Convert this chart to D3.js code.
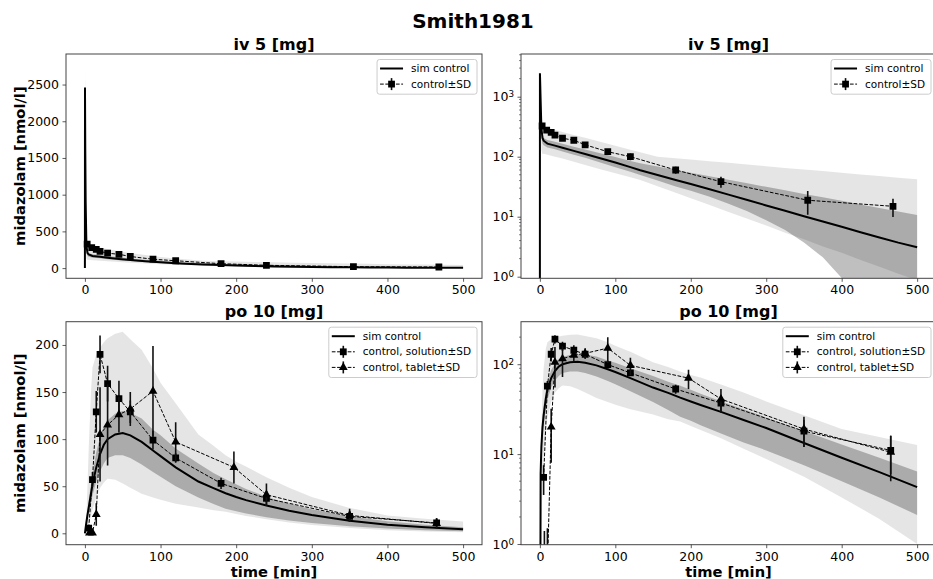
<!DOCTYPE html>
<html><head><meta charset="utf-8">
<script src="https://cdn.jsdelivr.net/npm/d3@7"></script>
<style>body{margin:0;background:#fff} svg{display:block;font-family:"DejaVu Sans",sans-serif}</style>
</head><body><svg id="c" width="933" height="579"></svg>
<script>
// ---------------- data ----------------
const suptitle = "Smith1981";
const ivTitle = "iv 5 [mg]";
const poTitle = "po 10 [mg]";
const xLabel = "time [min]";
const yLabel = "midazolam [nmol/l]";

const ivSimTime   = [0, 0.1, 0.5, 1, 2, 3.5, 5, 10, 20, 30, 45, 60, 80, 100, 120, 133, 156, 180, 200, 225, 250, 275, 300, 325, 350, 375, 400, 425, 450, 475, 500];
const ivSimMean   = [0, 2459, 1600, 900, 300, 205, 185, 165, 153, 141, 125, 111, 94, 80, 67, 59.5, 49.5, 41, 35, 28.6, 23.3, 19, 15.4, 12.6, 10.2, 8.3, 6.8, 5.5, 4.5, 3.7, 3.1];
const ivSdHigh    = [0, 2700, 1900, 1150, 430, 250, 205, 190, 177, 164, 147, 132, 114, 99, 85, 77.6, 68.6, 60.2, 54, 47.2, 41.2, 36, 31.5, 27.5, 24, 21, 18.4, 16, 14, 12.2, 10.7];
const ivSdLow     = [0, 2200, 1300, 650, 210, 165, 155, 142, 133, 122, 108, 96, 80, 67, 56, 49.5, 40, 32, 27, 21.5, 16.5, 12.3, 8.7, 6, 3.7, 2.1, 0.95, 0.3, 0, 0, 0];
const ivRangeHigh = [0, 2777, 2100, 1400, 600, 316, 313, 301, 281, 259, 231, 206, 177, 152, 131, 119, 100, 94.5, 89.5, 84, 79, 74, 69.5, 65, 61, 57.5, 54, 50.5, 47.5, 44.5, 42];
const ivRangeLow  = [0, 1800, 900, 400, 130, 110, 112, 108, 100, 93, 82, 73, 62, 53, 45.5, 41, 32.2, 25, 20.3, 15.6, 12, 9.2, 7.1, 5.4, 4.2, 3.2, 2.5, 1.9, 1.46, 1.12, 0.87];

const ivDataTime = [3, 9, 15, 20, 30, 45, 60, 90, 120, 180, 240, 355, 468];
const ivDataMean = [325, 278, 255, 228, 203, 188, 158, 121, 100, 60, 38.3, 18.8, 14.9];
const ivDataSd   = [25, 20, 18, 15, 12, 12, 12, 12, 13, 8, 8, 8, 5];

const poSimTime   = [0, 1, 2, 3.5, 5, 8, 10, 15, 20, 25, 30, 40, 50, 60, 75, 90, 100, 120, 150, 170, 186, 200, 213, 240, 270, 300, 350, 400, 450, 500];
const poSimMean   = [0, 6, 12, 20, 27, 42, 52, 70, 84, 94, 100, 105, 106.5, 104, 97, 88, 82, 70, 55, 48, 42.5, 38.5, 35.2, 29.5, 24, 19.5, 13.3, 9.1, 6.3, 4.3];
const poSdHigh    = [0, 8, 16, 26, 35, 52, 63, 86, 102, 114, 120, 127, 130, 128, 122, 110, 104, 90, 74, 64, 57.5, 52, 47, 38.8, 31.5, 25.6, 18.1, 12.8, 9.1, 6.4];
const poSdLow     = [0, 3, 8, 15, 21, 33, 40, 55, 66, 74, 80, 83, 83, 80, 73, 65, 60, 50, 38, 31, 26, 23.5, 21, 17, 13.5, 11, 7.5, 5, 3.3, 2.1];
const poRangeHigh = [0, 5, 20, 53, 90, 150, 176, 190, 197, 203, 207, 212, 214, 206, 195, 175, 160, 138, 105, 93, 83, 76, 71, 59.5, 48.5, 38.5, 27, 19, 15.5, 12.6];
const poRangeLow  = [0, 0.3, 1.5, 5, 9, 18, 25, 38, 48, 54, 58, 57, 53, 48.5, 42, 38, 35.5, 31.5, 27.5, 24.5, 23, 20.5, 18.5, 15, 11.5, 8.8, 5.6, 3.3, 1.9, 1.0];

const solTime = [5, 10, 15, 20, 30, 45, 60, 90, 120, 180, 240, 350, 465];
const solMean = [5.5, 57, 129, 190, 159, 143, 129, 99, 80, 53, 37, 18, 11];
const solSd   = [2, 8, 22, 20, 19, 19, 12, 10, 5, 6, 8, 6, 5];

const tabTime = [6, 10, 15, 20, 30, 45, 60, 90, 120, 197, 240, 350, 465];
const tabMean = [0.4, 0.5, 20, 105, 115, 126, 132, 151, 97, 70, 41, 19, 10.5];
const tabSd   = [1.0, 1.0, 12, 50, 43, 19, 18, 48, 21, 17, 12, 7, 5.5];

const xTicks = [0, 100, 200, 300, 400, 500];
const ivLinTicks = [0, 500, 1000, 1500, 2000, 2500];
const poLinTicks = [0, 50, 100, 150, 200];
const ivLogTicks = [1, 10, 100, 1000];
const poLogTicks = [1, 10, 100];

const legSim = "sim control";
const legIv = "control\u00b1SD";
const legSol = "control, solution\u00b1SD";
const legTab = "control, tablet\u00b1SD";

// ---------------- drawing ----------------
const svg = d3.select('#c');
const defs = svg.append('defs');
let clipN = 0;

svg.append('text').attr('x', 473).attr('y', 28).attr('text-anchor', 'middle')
  .attr('font-weight', 'bold').attr('font-size', 20).text(suptitle);

function panel(o) {
  const x = d3.scaleLinear().domain([-25, 525]).range([o.x0, o.x1]);
  const y = (o.log ? d3.scaleLog() : d3.scaleLinear()).domain(o.domain).range([o.y1, o.y0]);
  const fy = v => y(o.log ? Math.max(v, 1e-3) : v);
  const id = 'clip' + (clipN++);
  defs.append('clipPath').attr('id', id).append('rect')
    .attr('x', o.x0).attr('y', o.y0).attr('width', o.x1 - o.x0).attr('height', o.y1 - o.y0);
  const g = svg.append('g').attr('clip-path', `url(#${id})`);

  const s = o.sim;
  const idx = d3.range(s.t.length);
  const area = (lo, hi) => d3.area().x(i => x(s.t[i])).y0(i => fy(lo[i])).y1(i => fy(hi[i]));
  g.append('path').datum(idx).attr('d', area(s.rlo, s.rhi)).attr('fill', '#000').attr('fill-opacity', 0.1);
  g.append('path').datum(idx).attr('d', area(s.slo, s.shi)).attr('fill', '#000').attr('fill-opacity', 0.25);
  g.append('path').datum(idx).attr('d', d3.line().x(i => x(s.t[i])).y(i => fy(s.mean[i])))
    .attr('fill', 'none').attr('stroke', '#000').attr('stroke-width', 2);

  o.data.forEach(dser => {
    const di = d3.range(dser.t.length);
    g.selectAll(null).data(di).join('line')
      .attr('x1', i => x(dser.t[i])).attr('x2', i => x(dser.t[i]))
      .attr('y1', i => fy(dser.m[i] - dser.sd[i])).attr('y2', i => fy(dser.m[i] + dser.sd[i]))
      .attr('stroke', '#111').attr('stroke-width', 1.6);
    g.append('path').datum(di).attr('d', d3.line().x(i => x(dser.t[i])).y(i => fy(dser.m[i])))
      .attr('fill', 'none').attr('stroke', '#000').attr('stroke-width', 1).attr('stroke-dasharray', '3.7,1.6');
    const sym = d3.symbol().type(dser.sym === 'tri' ? d3.symbolTriangle : d3.symbolSquare).size(dser.sym === 'tri' ? 34 : 46);
    g.selectAll(null).data(di).join('path')
      .attr('transform', i => `translate(${x(dser.t[i])},${fy(dser.m[i])})`)
      .attr('d', sym).attr('fill', '#000');
  });

  // frame
  svg.append('rect').attr('x', o.x0).attr('y', o.y0).attr('width', o.x1 - o.x0).attr('height', o.y1 - o.y0)
    .attr('fill', 'none').attr('stroke', '#444').attr('stroke-width', 1);

  // x axis
  const ax = svg.append('g').attr('transform', `translate(0,${o.y1})`)
    .call(d3.axisBottom(x).tickValues(xTicks).tickSize(3.5).tickPadding(3.5).tickFormat(d3.format('d')));
  ax.select('.domain').remove();
  ax.selectAll('line').attr('stroke', '#333').attr('stroke-width', 0.8);
  ax.selectAll('text').attr('font-size', 12.5).attr('fill', '#000').attr('font-family', '"DejaVu Sans",sans-serif');

  // y axis
  const ay = svg.append('g').attr('transform', `translate(${o.x0},0)`)
    .call(d3.axisLeft(y).tickValues(o.yTicks).tickSize(3.5).tickPadding(3.5).tickFormat(o.log ? () => '' : d3.format('d')));
  ay.select('.domain').remove();
  ay.selectAll('line').attr('stroke', '#333').attr('stroke-width', 0.8);
  ay.selectAll('text').attr('font-size', 12.5).attr('fill', '#000').attr('font-family', '"DejaVu Sans",sans-serif');
  if (o.log) {
    ay.selectAll('text').each(function (d) {
      const t = d3.select(this);
      t.text('10');
      t.append('tspan').attr('dy', '-0.45em').attr('font-size', '0.7em').text(Math.round(Math.log10(d)));
    });
    const minor = [];
    [0.1, 1, 10, 100, 1000].forEach(dec => { for (let m = 2; m <= 9; m++) { const v = m * dec; if (v > o.domain[0] && v < o.domain[1]) minor.push(v); } });
    svg.append('g').selectAll('line').data(minor).join('line')
      .attr('x1', o.x0).attr('x2', o.x0 - 2).attr('y1', d => y(d)).attr('y2', d => y(d))
      .attr('stroke', '#333').attr('stroke-width', 0.6);
  }

  // title
  svg.append('text').attr('x', (o.x0 + o.x1) / 2).attr('y', o.y0 - 4.5).attr('text-anchor', 'middle')
    .attr('font-weight', 'bold').attr('font-size', 16).text(o.title);
  if (o.ylabel) {
    svg.append('text').attr('transform', `translate(25,${(o.y0 + o.y1) / 2}) rotate(-90)`).attr('text-anchor', 'middle')
      .attr('font-weight', 'bold').attr('font-size', 14.7).text(yLabel);
  }
  if (o.xlabel) {
    svg.append('text').attr('x', (o.x0 + o.x1) / 2).attr('y', 577).attr('text-anchor', 'middle')
      .attr('font-weight', 'bold').attr('font-size', 14.7).text(xLabel);
  }

  // legend
  const lg = svg.append('g');
  const box = lg.append('rect');
  const top = o.y0 + 5.5;
  const rowH = 15.6;
  let maxW = 0;
  const items = o.legend.map((e, i) => {
    const t = lg.append('text').attr('y', top + 9 + i * rowH).attr('dy', '0.35em').attr('font-size', 10.5).text(e.label);
    maxW = Math.max(maxW, t.node().getComputedTextLength());
    return t;
  });
  const w = 34 + maxW + 6;
  const right = Math.min(o.x1, 936) - 5;
  const left = right - w;
  box.attr('x', left).attr('y', top).attr('width', w).attr('height', o.legend.length * rowH + 3.5).attr('rx', 2.5)
    .attr('fill', '#fff').attr('fill-opacity', 0.8).attr('stroke', '#cccccc').attr('stroke-width', 1);
  o.legend.forEach((e, i) => {
    const cy = top + 9 + i * rowH;
    items[i].attr('x', left + 34);
    if (e.type === 'line') {
      lg.append('line').attr('x1', left + 3).attr('x2', left + 26).attr('y1', cy).attr('y2', cy)
        .attr('stroke', '#000').attr('stroke-width', 2);
    } else {
      lg.append('line').attr('x1', left + 3).attr('x2', left + 26).attr('y1', cy).attr('y2', cy)
        .attr('stroke', '#000').attr('stroke-width', 1).attr('stroke-dasharray', '3.7,1.6');
      lg.append('line').attr('x1', left + 14.5).attr('x2', left + 14.5).attr('y1', cy - 6).attr('y2', cy + 6)
        .attr('stroke', '#111').attr('stroke-width', 1.6);
      lg.append('path').attr('transform', `translate(${left + 14.5},${cy})`)
        .attr('d', d3.symbol().type(e.sym === 'tri' ? d3.symbolTriangle : d3.symbolSquare).size(e.sym === 'tri' ? 34 : 46)())
        .attr('fill', '#000');
    }
  });
}

const ivSim = { t: ivSimTime, mean: ivSimMean, slo: ivSdLow, shi: ivSdHigh, rlo: ivRangeLow, rhi: ivRangeHigh };
const poSim = { t: poSimTime, mean: poSimMean, slo: poSdLow, shi: poSdHigh, rlo: poRangeLow, rhi: poRangeHigh };
const ivData = [{ t: ivDataTime, m: ivDataMean, sd: ivDataSd, sym: 'sq' }];
const poData = [{ t: solTime, m: solMean, sd: solSd, sym: 'sq' }, { t: tabTime, m: tabMean, sd: tabSd, sym: 'tri' }];
const ivLeg = [{ label: legSim, type: 'line' }, { label: legIv, type: 'data', sym: 'sq' }];
const poLeg = [{ label: legSim, type: 'line' }, { label: legSol, type: 'data', sym: 'sq' }, { label: legTab, type: 'data', sym: 'tri' }];

panel({ x0: 66, x1: 482, y0: 54, y1: 278.3, log: false, domain: [-139, 2916], yTicks: ivLinTicks, title: ivTitle, ylabel: true, sim: ivSim, data: ivData, legend: ivLeg });
panel({ x0: 521, x1: 936, y0: 54, y1: 278.3, log: true, domain: [0.94, 5150], yTicks: ivLogTicks, title: ivTitle, sim: ivSim, data: ivData, legend: ivLeg });
panel({ x0: 66, x1: 482, y0: 321.7, y1: 544.7, log: false, domain: [-12.1, 224.7], yTicks: poLinTicks, title: poTitle, ylabel: true, xlabel: true, sim: poSim, data: poData, legend: poLeg });
panel({ x0: 521, x1: 936, y0: 321.7, y1: 544.7, log: true, domain: [0.983, 297], yTicks: poLogTicks, title: poTitle, xlabel: true, sim: poSim, data: poData, legend: poLeg });
</script></body></html>
